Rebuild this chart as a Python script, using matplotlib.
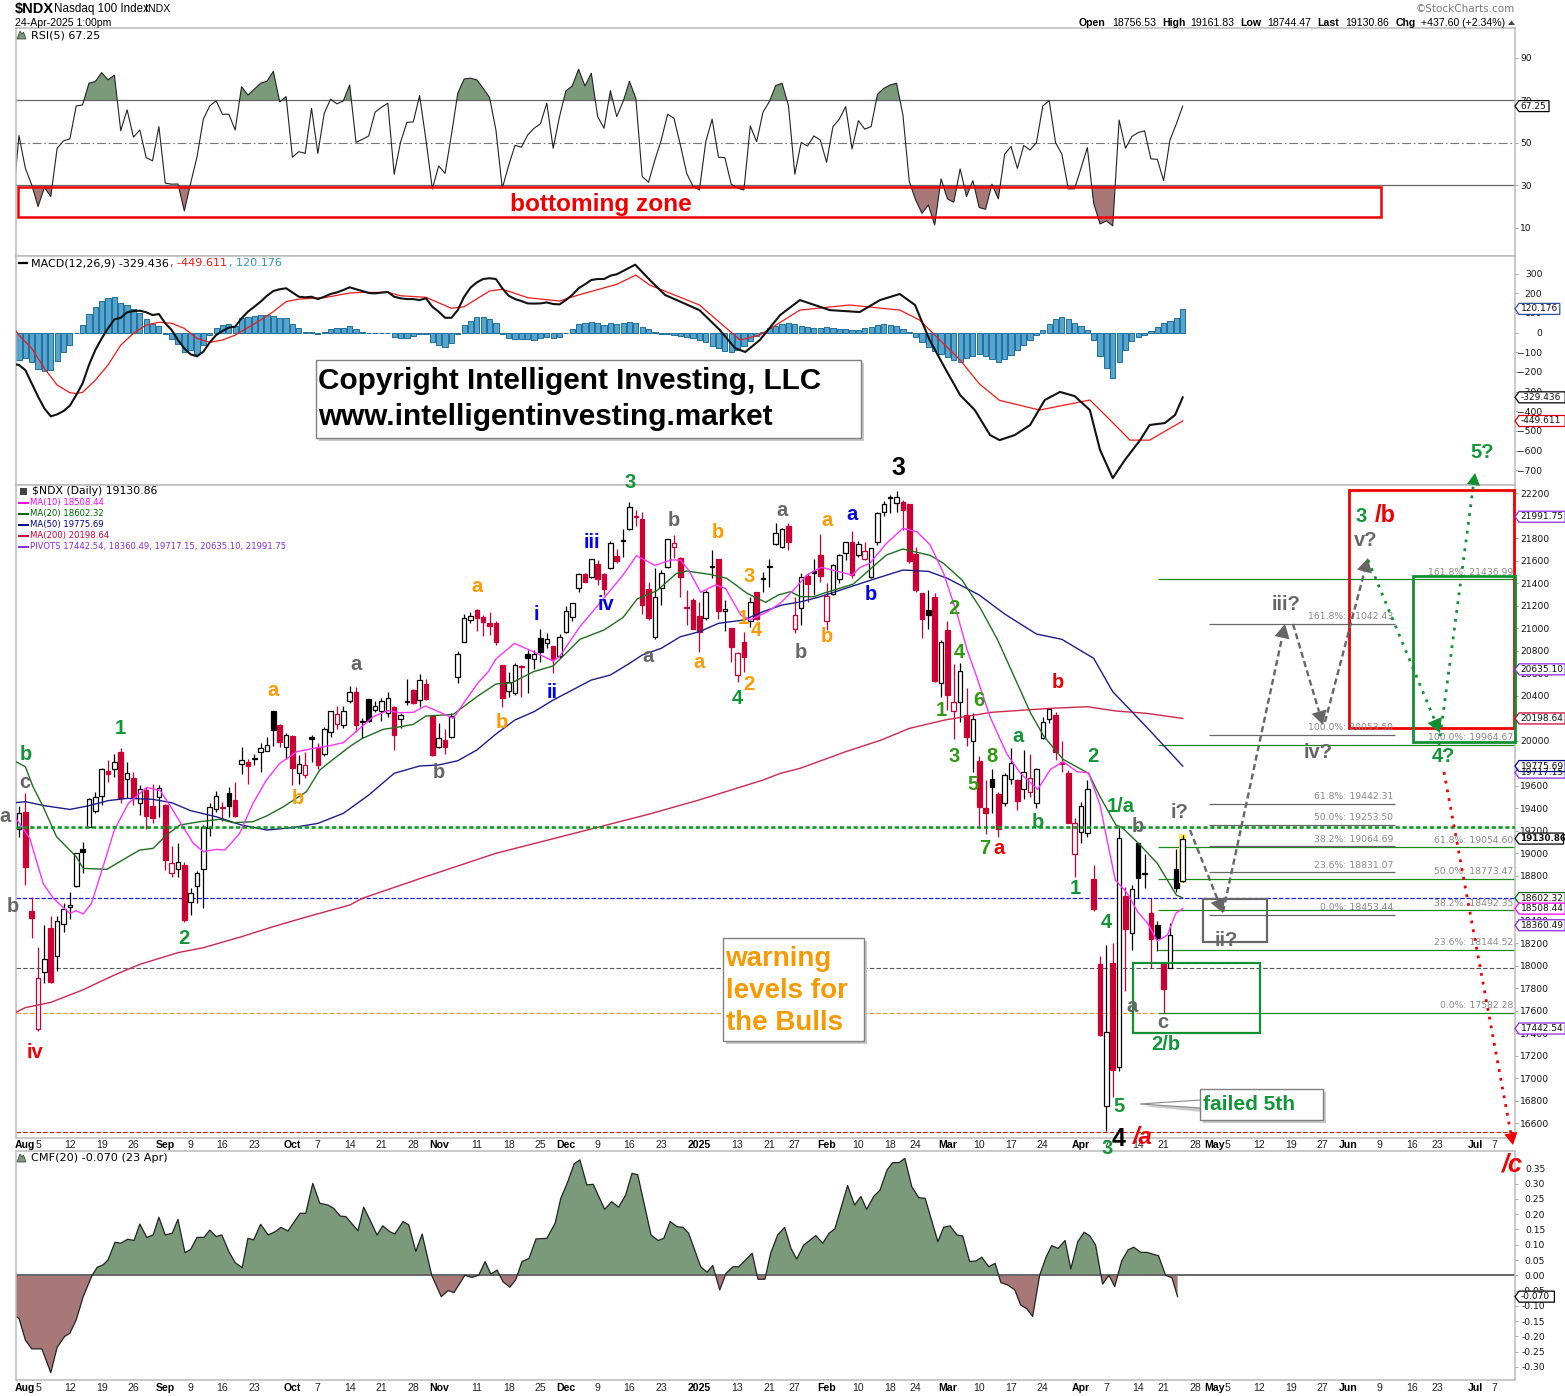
import numpy as np
import matplotlib
matplotlib.use("Agg")
import matplotlib.pyplot as plt
from matplotlib.patches import Rectangle, Polygon

W, H = 1565, 1396
plt.rcParams['font.family'] = ['DejaVu Sans']
ARIAL = 'Liberation Sans'

# ---------- price data (one row per session, 31-Jul-2024 .. 24-Apr-2025) ----------
opens = [19213,19364,18484,17435,17948,18333,18090,18368,18525,18712,19035,19236,19379,19512,19731,19746,19900,19657,19666,19444,19562,19420,19497,19429,18822,18857,18893,18570,18712,18857,19222,19391,19399,19533,19474,19790,19808,19835,19903,19912,20265,20140,19948,20042,19716,19699,20034,19942,19882,20081,20149,20140,20356,20430,20175,20368,20274,20268,20244,20303,20190,20350,20451,20362,20502,20220,19948,20007,20031,20564,20881,21071,21162,21100,21044,21044,20674,20439,20422,20665,20768,20724,20911,20866,20842,20756,20964,21097,21355,21482,21453,21568,21479,21533,21642,21783,21879,22001,21968,21349,20925,21355,21548,21725,21622,21190,21251,21109,21088,21552,21613,21151,21002,20582,20881,21062,21320,21447,21556,21746,21725,21909,20991,21177,21465,21505,21651,21068,21305,21441,21666,21767,21654,21619,21459,21770,22031,22167,22111,22122,22105,21660,21311,21162,21275,20511,20985,20268,20348,20226,20001,19820,19400,19660,19527,19450,19657,19651,19568,19548,19450,20028,20191,20229,19814,19716,18991,19186,19177,18771,18016,16757,18025,17103,18620,18294,19088,18825,18466,18360,18016,17977,18857,18756.53]
highs = [19420,19533,18614,18164,18363,18443,18443,18555,18653,19000,19100,19495,19548,19760,19829,19880,19933,19808,19720,19607,19592,19616,19607,19435,19065,19088,18926,18688,18843,19252,19444,19554,19459,19592,19631,19948,19835,19882,19977,20031,20265,20146,20066,20051,19873,19903,20051,19977,20119,20268,20309,20309,20487,20475,20200,20368,20354,20377,20430,20309,20244,20549,20460,20593,20549,20220,20155,20105,20244,20798,21124,21148,21168,21118,21148,21065,20674,20614,20688,20674,20807,20807,20994,20955,20845,20949,21198,21222,21494,21488,21613,21607,21488,21773,21702,21879,22120,22051,22031,21408,21533,21520,21791,21829,21631,21340,21266,21236,21340,21696,21613,21251,21002,20792,20964,21275,21320,21503,21613,21933,21890,21933,21281,21488,21488,21616,21838,21399,21571,21660,21764,21865,21779,21764,21710,22031,22131,22185,22223,22140,22105,21725,21316,21340,21311,20896,21065,20682,20688,20466,20244,19865,19651,19746,19548,19716,19933,19660,19918,19882,19755,20208,20294,20259,20000,19740,19311,19459,19651,18893,18090,18185,18200,19231,18697,18718,19090,18994,18600,18398,18016,18383,19038,19161.83]
lows = [19148,18718,18250,17423,17850,17844,17957,18303,18416,18700,18828,19230,19355,19429,19637,19681,19450,19488,19429,19340,19213,19272,19320,18851,18792,18792,18386,18452,18561,18517,19154,19370,19290,19325,19320,19705,19616,19785,19725,19905,19953,19948,19835,19607,19616,19666,19814,19749,19865,20036,20105,20111,20339,20081,20022,20170,20259,20179,20208,19918,20111,20318,20330,20303,20362,19865,19939,19882,20022,20516,20881,21044,20976,20931,20937,20851,20303,20392,20407,20392,20428,20638,20703,20822,20605,20733,20961,21068,21325,21408,21444,21385,21296,21524,21577,21631,21873,21909,21127,21074,20902,21207,21540,21622,21281,21029,20990,20792,21074,21444,21082,20979,20703,20525,20614,21014,21074,21325,21370,21740,21710,21696,20961,21029,21236,21296,21414,20985,21296,21399,21607,21444,21636,21607,21444,21740,22001,22022,22037,21874,21577,21325,20916,20994,20525,20392,20273,20016,20170,19956,19725,19227,19168,19361,19142,19420,19616,19385,19480,19500,19400,20013,20155,19829,19725,19272,18786,19089,19148,18490,17376,16535,16837,17068,17779,18140,18600,18688,17977,18134,17577,17977,18659,18744.47]
closes = [19355,18881,18428,17888,18063,17859,18401,18502,18537,19000,19015,19479,19497,19752,19708,19814,19488,19710,19503,19568,19331,19316,19577,18940,18911,18920,18407,18650,18822,19231,19414,19509,19414,19423,19334,19826,19779,19845,19933,19960,20096,19992,20051,19761,19791,19782,20016,19785,20102,20262,20235,20262,20430,20140,20165,20179,20312,20350,20377,20051,20226,20345,20339,20537,20371,19874,20022,19948,20220,20768,21088,21106,21094,21056,21023,20878,20383,20525,20670,20655,20733,20768,20792,20908,20727,20920,21151,21222,21479,21414,21613,21435,21352,21755,21598,21773,22081,21992,21207,21094,21275,21494,21791,21755,21459,21180,20993,20970,21320,21544,21157,21168,20836,20777,20748,21231,21079,21436,21548,21844,21885,21764,21115,21453,21396,21495,21465,21287,21559,21648,21764,21473,21746,21684,21710,22022,22102,22160,22164,22051,21598,21340,21079,21121,20531,20875,20407,20342,20617,20036,20191,19414,19361,19586,19216,19693,19799,19468,19725,19666,19746,20170,20280,19903,19791,19272,19266,19423,19569,18505,17385,17414,17074,19133,18327,18680,18783,18815,18241,18250,17794,18271,18693,19130.86]

# ---------- moving averages, read at the vertices of each line ----------
ma10_bars = [-0.5,1.7,3.8,5.4,8,9,10.1,11.4,13.3,15,17.2,20.1,22.2,23.7,25.3,27.4,29,31,32.4,34.7,36.8,38.9,41,43.7,46.3,48.1,51,53.6,55.7,58,59.9,62,63.9,66,68.3,69.9,72.2,73.8,75,77.9,80.9,84,85,88.2,91.3,95,97.1,100,102.5,104,105.3,107.2,109.5,111.1,113.5,115,117.7,119.7,121.8,123.9,126.2,131,132.3,133.8,136.4,139,141.2,143.3,145.4,147.5,149.1,150.6,152.7,155.3,157.5,160.2,162.2,164.2,166.4,168.2,170,171,172.4,174.3,175.9,177.5,179,180.6,181.9,183]
ma10_vals = [19311,19133,18733,18600,18466,18490,18460,18555,18896,19207,19444,19586,19557,19429,19281,19089,19014,19035,19029,19177,19444,19651,19799,19903,19933,19948,19983,20111,20214,20268,20250,20253,20309,20259,20199,20333,20516,20614,20727,20866,20792,20709,20748,21014,21222,21474,21645,21559,21607,21607,21518,21320,21385,21355,21118,21074,21148,21222,21340,21474,21542,21474,21542,21577,21755,21888,21859,21740,21488,21133,20807,20570,20214,19888,19710,19568,19746,19814,19725,19716,19429,19148,18763,18644,18481,18377,18220,18274,18466,18508.44]
ma20_bars = [-0.5,1,2.2,3.8,5.9,9,10.1,13.8,17,19,21.1,23.2,25.3,28.4,31.6,33.7,36.8,38.9,41.6,45.2,47.3,49.4,52,54,57.3,60,62,64,68.3,72,75,77.5,80.9,84,88.2,92,95,97.2,100.3,103.4,105,108.7,111.3,114.5,117.4,119.4,121.3,122.9,125,126.5,131.2,134.3,136.4,139,143.3,145.4,148.3,151.2,153.9,156.5,159.1,161.2,164.2,168.2,170,172.5,173.5,176.3,179,182,183]
ma20_vals = [19814,19770,19592,19414,19148,18970,18866,18857,18964,19029,19044,19163,19251,19281,19302,19272,19281,19331,19414,19548,19740,19835,19948,20022,20102,20125,20146,20220,20235,20392,20505,20516,20614,20665,20902,20985,21097,21260,21334,21488,21509,21479,21444,21311,21231,21296,21325,21281,21281,21311,21393,21548,21651,21705,21648,21577,21429,21177,20896,20570,20244,20037,19835,19710,19503,19251,19228,19074,18911,18629,18602.32]
ma50_bars = [-0.5,1,4,8,11,14,17,21,24,27,31,35,39,43,47,51,55,59,63,66,69,72,75,78,81,84,87,90,93,96,98,101,104,107,110,114,117,120,123,126,130,134,139,143,146,148,151,155,160,164,169,172,175,178,183]
ma50_vals = [19450,19459,19423,19390,19423,19468,19488,19480,19450,19379,19325,19251,19207,19228,19266,19355,19518,19711,19776,19785,19823,19918,20060,20185,20259,20362,20451,20540,20585,20688,20762,20822,20925,20970,21044,21074,21148,21207,21236,21281,21355,21429,21518,21506,21444,21385,21296,21127,20949,20902,20733,20436,20259,20081,19775.69]
ma200_bars = [-0.5,1,5,10,15,19,25,29,35,40,45,52,54,63,75,90.6,99.2,107,117,119.7,122.8,125,130,135.6,140,145.6,152.9,162,168,172.5,177.3,183]
ma200_vals = [17586,17628,17675,17785,17918,18013,18117,18161,18259,18348,18431,18540,18600,18774,19000,19225,19350,19475,19651,19710,19755,19800,19903,20007,20110,20185,20253,20288,20303,20265,20244,20198.64]

# ---------- RSI(5), first value belongs to the session before the chart's first ----------
rsi = [21,53.4,38,30.2,20,28.9,24.7,47.4,50.9,51.8,67.3,67.8,78,78.8,83,79.6,81.8,55.7,65.5,52.6,56,43,41.5,57.6,31,30.5,30.6,17.9,31,43.5,61.2,67.3,69.8,63.4,63.4,56,76.4,72.4,75.2,78,79,83.6,69.2,71.7,43.2,45.8,45,66.2,45,63.9,70.5,68.3,69.7,77.2,50.2,51.6,53.2,64.4,66.7,68.6,35.2,50.2,59.6,59.8,72.2,51.3,28.3,39.1,35.6,53.7,73.3,80,80.4,79.6,75.6,71.3,56,28.6,39.3,48.8,47.9,53.7,56.8,58.9,68.6,47.4,62.3,74.4,76.7,84.6,76.7,82.7,62.3,56.8,74.5,62.3,69.4,78.9,70.9,34.1,31.4,41.9,51.3,63.4,61.5,49,35.6,29.4,27.8,50.5,61.1,43.2,43,30.5,28.6,27.8,57.9,50.5,64.4,69.4,76.9,78,67.5,35.2,50.1,48.5,53.2,51.3,40.8,57.6,61.1,67,47.1,60.4,56.4,57.6,72.8,75.6,77.2,78,63.1,31.7,23.1,16.8,20.7,11.3,33,23.6,22,37.7,24.7,32.2,19.5,18.7,30.5,23.6,44.6,48.2,38,48.7,46.6,50.1,67.3,69.8,50.1,44.6,28.3,28.3,38,47.7,21.5,11.8,13.2,10.9,60.7,47.4,52.9,54.8,55.6,42.4,42.2,32.2,51.3,58.9,67.25]

# ---------- MACD(12,26,9) ----------
macd_hist = [-139,-131,-152,-187,-194,-191,-145,-101,-64,-3,38,92,131,160,174,180,148,140,120,97,69,42,35,-6,-35,-58,-97,-89,-109,-64,-13,21,38,42,35,72,81,86,89,89,86,75,72,42,21,4,4,-9,1,18,21,21,31,16,3,-1,-4,-4,-4,-25,-30,-26,-20,-9,-9,-47,-64,-72,-55,-6,38,59,77,77,69,47,-6,-26,-33,-35,-35,-36,-30,-21,-26,-21,-1,16,42,47,55,47,38,47,43,50,55,50,30,20,5,-5,-10,-15,-20,-25,-30,-40,-50,-70,-80,-95,-100,-90,-70,-45,-20,5,25,35,45,50,45,35,30,25,25,30,25,20,20,15,15,25,30,40,45,40,35,20,5,-25,-50,-75,-95,-110,-125,-140,-150,-130,-120,-110,-120,-135,-150,-135,-115,-90,-65,-40,-15,15,45,70,80,70,50,35,15,-40,-120,-180,-230,-150,-90,-45,-25,-15,10,30,50,60,75,120.176]
macd_bars = [-0.5] + list(range(95)) + [96.9,99.2,101.6,107,110.2,112.6,114.2,116.5,119.7,122.8,127.5,132.2,135.4,138.5,140.9,143.2,145.6,148,150.3,152.7,154.2,156.6,159,161.3,163.7,166,168.4,170,172,173.9,176.3,177.8,180.2,181.8,183]
macd_vals = [-162,-165,-191,-259,-326,-386,-426,-416,-399,-372,-318,-259,-165,-89,-30,21,67,75,103,109,111,103,89,94,47,13,-38,-81,-111,-121,-97,-50,-13,8,25,30,72,106,131,157,187,211,220,225,204,182,179,182,170,182,196,204,216,230,220,211,201,199,203,206,182,174,170,170,165,174,131,106,75,75,114,182,228,255,272,276,272,225,187,170,160,148,147,148,153,145,143,165,191,225,245,267,272,272,289,296,345,267,191,114,13,-79,-99,-38,89,165,114,104,165,196,140,-38,-180,-318,-394,-521,-547,-521,-470,-343,-302,-323,-394,-597,-740,-648,-547,-470,-460,-419,-329.436]
signal_bars = [-0.5,0,2,4,6,8,9,10,12,14,16,18,20,22,24,26,28,30,32,34,36,38,40,42,44,48,52,54,58,60,64,68,70,74,76,78,80,85,88,94,97,99.2,107,113.4,116.5,122.8,130.6,138.5,141.6,148,151,154.2,160.5,168.4,171.6,174.7,177.8,183]
signal_vals = [8,-13,-81,-182,-267,-306,-310,-304,-242,-165,-64,-4,38,52,47,21,-30,-50,-38,-13,25,64,106,157,170,177,201,204,204,187,179,123,131,211,220,199,177,160,191,245,292,241,140,-38,-13,114,140,114,64,-140,-260,-345,-394,-343,-445,-547,-547,-449.611]

# ---------- CMF(20) ----------
cmf_bars = [-0.5,0,1,2,3.6,5,6,7.2,8,9,10.1,11.5,12.3,13.2,14,15.1,16,17.1,18.1,19,20.1,21.1,22,23,24.1,25,26.1,27,28,29.1,30,31,31.9,33,34,35.1,36,36.9,38,39.2,40.3,41.2,42.3,44.2,45.1,46.2,47.3,48.6,49.5,50.5,51.4,53.3,54.2,55.2,56.3,57.2,58.3,59.1,60.4,61.3,62.4,63.4,64.9,66.4,67.5,68.4,70.1,71.2,72.3,73.3,74.2,75.2,76.1,77.2,78.1,79.1,80.2,81.3,83,84.3,85.2,86.2,87.3,88.2,89.3,90.3,92.1,93.2,94.3,95.4,96.4,97.3,99.4,100.5,101.4,102.4,103.5,104.4,105.3,107.2,108.2,109.1,110.2,111.2,112.3,113.2,115.3,116.2,117.3,118.2,119.3,120.4,121.4,122.3,123.4,125.3,126.4,127.4,128.3,130.3,131.4,132.4,133.3,134.4,135.4,136.5,137.4,138.4,139.3,140.4,141.5,142.5,144.5,145.4,146.4,147.5,148.4,149.5,150.5,151.4,152.5,153.5,154.4,155.5,156.6,157.5,158.5,159.4,160.5,161.5,162.4,163.4,164.5,165.4,166.5,167.5,168.4,169.3,170.4,171.4,172.3,173.4,174.4,175.3,176.4,177.4,178.3,179.2,180.3,181.3,182.2]
cmf_vals = [-.135,-.141,-.212,-.241,-.241,-.319,-.236,-.2,-.19,-.146,-.07,0,.026,.034,.05,.108,.105,.118,.114,.168,.124,.132,.19,.132,.138,.183,.074,.085,.124,.124,.148,.127,.132,.078,.041,.025,.121,.116,.167,.132,.143,.157,.145,.203,.203,.301,.236,.23,.219,.194,.192,.146,.223,.181,.132,.162,.143,.135,.176,.165,.078,.135,0,-.07,-.05,-.057,0,-.007,0,.045,.004,.017,-.021,-.039,-.015,.045,.055,.119,.121,.17,.252,.301,.365,.378,.296,.298,.216,.241,.223,.263,.334,.329,.132,.114,.121,.176,.159,.157,.138,.028,.01,.032,-.048,.007,.028,.028,.072,-.013,-.013,.072,.132,.157,.088,.053,.099,.13,.105,.138,.152,.294,.23,.258,.216,.258,.279,.345,.369,.369,.383,.29,.254,.252,.11,.157,.162,.132,.129,.045,.047,.059,.028,.039,-.024,-.032,-.048,-.097,-.11,-.135,0,.059,.097,.088,.114,.021,.11,.141,.129,.099,-.029,0,-.037,.047,.083,.092,.075,.075,.069,.064,0,-.008,-.07]

# ---------- levels ----------
support_level, blue_level, gray_level, orange_level, red_level = 19230, 18602.32, 17977, 17577, 16525
fib_a_vals = [21436.99,19964.67,19054.60,18773.47,18492.35,18144.52,17582.28]
fib_a_text = ['161.8%: 21436.99','100.0%: 19964.67','61.8%: 19054.60','50.0%: 18773.47','38.2%: 18492.35','23.6%: 18144.52','0.0%: 17582.28']
fib_b_vals = [21042.43,20053.50,19442.31,19253.50,19064.69,18831.07,18453.44]
fib_b_text = ['161.8%: 21042.43','100.0%: 20053.50','61.8%: 19442.31','50.0%: 19253.50','38.2%: 19064.69','23.6%: 18831.07','0.0%: 18453.44']

# ---------- date axis ----------
tick_bars = [1,3,8,13,18,23,27,32,37,43,47,52,57,62,66,72,77,82,86,91,96,101,107,113,118,122,127,132,137,141,146,151,156,161,167,171,176,180,185,188,190,195,200,205,209,214,219,223,229,232]
tick_text = ['Aug','5','12','19','26','Sep','9','16','23','Oct','7','14','21','28','Nov','11','18','25','Dec','9','16','23','2025','13','21','27','Feb','10','18','24','Mar','10','17','24','Apr','7','14','21','28','May','5','12','19','27','Jun','9','16','23','Jul','7']
bold_ticks = {'Aug','Sep','Oct','Nov','Dec','2025','Feb','Mar','Apr','May','Jun','Jul'}

RED, GREEN_MA, NAVY, CRIM, MAG, PURP = '#CC0033', '#1E6F1E', '#1C1C8C', '#D0264C', '#FF33FF', '#8A2BE2'
FRAME = '#BBBBBB'

fig = plt.figure(figsize=(W/100, H/100), dpi=100, facecolor='white')

def panel(top, bottom):
    ax = fig.add_axes([16/W, 1-bottom/H, (1515.3-16)/W, (bottom-top)/H])
    ax.set_xlim(-0.47, 235.3)
    for s in ax.spines.values():
        s.set_color(FRAME); s.set_linewidth(1.1)
    ax.yaxis.tick_right()
    ax.tick_params(axis='y', length=2, width=0.6, color='#999999', labelsize=6.6, pad=1.5, labelcolor='#111111')
    ax.tick_params(axis='x', length=0, labelbottom=False)
    return ax

# ---- RSI
ax_r = panel(28, 256)
ax_r.set_ylim(-3.3, 104)
rx = np.arange(len(rsi)) - 1
ax_r.fill_between(rx, rsi, 70, where=np.array(rsi) >= 70, interpolate=True, color='#7A9A7A', lw=0)
ax_r.fill_between(rx, rsi, 30, where=np.array(rsi) <= 30, interpolate=True, color='#A87878', lw=0)
ax_r.axhline(70, color='#666666', lw=0.9)
ax_r.axhline(30, color='#666666', lw=0.9)
ax_r.axhline(50, color='#777777', lw=0.8, ls=(0, (8, 2.5, 1.5, 2.5)))
ax_r.plot(rx, rsi, color='#222222', lw=0.8)
ax_r.set_yticks([90, 70, 50, 30, 10])

# ---- MACD
ax_m = panel(256, 485)
ax_m.set_ylim(-775, 389)
ax_m.bar(np.arange(len(macd_hist)), macd_hist, width=0.82, facecolor='#55A5CE', edgecolor='#1F6E9A', linewidth=0.7, zorder=2)
ax_m.plot(signal_bars, signal_vals, color='#F01818', lw=0.9, zorder=3)
ax_m.plot(macd_bars, macd_vals, color='#111111', lw=1.5, zorder=4)
ax_m.set_yticks(np.arange(-700, 301, 100))
ax_m.tick_params(axis='y', pad=17.5)
for tl in ax_m.get_yticklabels():
    tl.set_ha('right')

# ---- Price
ax_p = panel(485, 1137.6)
ax_p.set_ylim(22200-(1137.6-493.3)/0.1125, 22200+8.3/0.1125)
ax_p.set_yticks(np.arange(16600, 22201, 200))
ax_p.add_patch(Rectangle((182.42, 18735), 1.16, 440, fc='#FFF04A', ec='none', zorder=3.6))
prev = None
for i, (o, h, l, c) in enumerate(zip(opens, highs, lows, closes)):
    col = RED if (prev is not None and c < prev) else 'black'
    z = 3.7 if i == len(opens)-1 else 3
    ax_p.vlines(i, l, h, color=col, lw=0.9, zorder=z)
    lo, hi = min(o, c), max(o, c)
    ax_p.bar(i, max(hi-lo, 8), bottom=lo, width=0.72,
             facecolor='white' if c >= o else col, edgecolor=col, linewidth=0.9, zorder=z+0.1)
    prev = c
ax_p.plot(ma200_bars, ma200_vals, color=CRIM, lw=1.0, zorder=4)
ax_p.plot(ma50_bars, ma50_vals, color=NAVY, lw=1.0, zorder=4)
ax_p.plot(ma20_bars, ma20_vals, color=GREEN_MA, lw=1.0, zorder=4)
ax_p.plot(ma10_bars, ma10_vals, color=MAG, lw=1.0, zorder=4)
xe = 235.3
ax_p.hlines(blue_level, -0.47, xe, color='#1A1AF0', lw=0.9, ls=(0, (3.5, 1.5)), zorder=2)
ax_p.hlines(gray_level, -0.47, xe, color='#555555', lw=0.8, ls=(0, (4, 2)), zorder=2)
ax_p.hlines(orange_level, -0.47, 179, color='#F09020', lw=0.8, ls=(0, (4, 2)), zorder=2)
ax_p.hlines(red_level, -0.47, xe, color='#D01010', lw=0.8, ls=(0, (4, 2)), zorder=2)
ax_p.hlines(fib_a_vals, 179.1, xe, color='#1B8A1B', lw=0.9, zorder=2)
ax_p.hlines(fib_b_vals, 187.1, 216.4, color='#666666', lw=0.9, zorder=2)
ax_p.hlines(support_level, -0.47, xe, color='#0E9A22', lw=1.9, ls=(0, (1.6, 1.0)), zorder=5)
ax_p.set_xticks(tick_bars)
ax_p.set_xticklabels(tick_text)
ax_p.tick_params(axis='x', length=0, labelbottom=True, labelsize=7, pad=2)

# ---- CMF
ax_c = panel(1151, 1380)
ax_c.set_ylim(-0.343, 0.407)
cx, cv = np.array(cmf_bars), np.array(cmf_vals)
ax_c.fill_between(cx, cv, 0, where=cv >= 0, interpolate=True, color='#7A9A7A', lw=0)
ax_c.fill_between(cx, cv, 0, where=cv <= 0, interpolate=True, color='#A87878', lw=0)
ax_c.axhline(0, color='#666666', lw=1.4)
ax_c.plot(cx, cv, color='#222222', lw=0.9)
cmf_ticks = np.round(np.arange(-0.30, 0.351, 0.05), 2) + 0.0
ax_c.set_yticks(cmf_ticks)
ax_c.set_yticklabels([f'{abs(v):.2f}' if abs(v) < 1e-9 else f'{v:.2f}' for v in cmf_ticks])
ax_c.tick_params(axis='y', pad=19.5)
for tl in ax_c.get_yticklabels():
    tl.set_ha('right')
ax_c.set_xticks(tick_bars)
ax_c.set_xticklabels(tick_text)
ax_c.tick_params(axis='x', length=0, labelbottom=True, labelsize=7, pad=2)

for a in (ax_p, ax_c):
    for tl, s in zip(a.get_xticklabels(), tick_text):
        tl.set_family(ARIAL)
        tl.set_fontsize(7.6)
        if s in bold_ticks:
            tl.set_fontweight('bold')
            tl.set_color('black')
        else:
            tl.set_color('#222222')

# ---------- overlay in picture pixels for annotation ----------
ov = fig.add_axes([0, 0, 1, 1], facecolor='none')
ov.set_xlim(0, W); ov.set_ylim(H, 0); ov.axis('off')

def T(x, y, s, color='black', size=14.5, weight='bold', ha='center', va='center', style='normal', family=ARIAL, z=20):
    return ov.text(x, y, s, color=color, fontsize=size, fontweight=weight, ha=ha, va=va, style=style, family=family, zorder=z)

def box(x0, y0, x1, y1, ec, lw=1.0, fc='none', z=10):
    ov.add_patch(Rectangle((x0, y0), x1-x0, y1-y0, fc=fc, ec=ec, lw=lw, zorder=z))

def shadow_box(x0, y0, x1, y1):
    ov.add_patch(Rectangle((x0+3, y0+3), x1-x0, y1-y0, fc='#C8C8C8', ec='none', zorder=14))
    ov.add_patch(Rectangle((x0, y0), x1-x0, y1-y0, fc='white', ec='#808080', lw=1.0, zorder=15))

def arrow(x0, y0, x1, y1, color, lw, ls, hs=13):
    d = np.array([x1-x0, y1-y0], float); L = np.hypot(*d); u = d/L; n = np.array([-u[1], u[0]])
    tip = np.array([x1, y1]); base = tip - u*hs
    ov.plot([x0, base[0]], [y0, base[1]], color=color, lw=lw, ls=ls, zorder=12, solid_capstyle='butt')
    ov.add_patch(Polygon([tip, base+n*hs*0.55, base-n*hs*0.55], closed=True, fc=color, ec='none', zorder=12))

def tag(ax, val, s, color, bold=False, w=None):
    y = H - ax.transData.transform((0, val))[1]
    w = w if w else len(s)*5.4 + 3
    ov.add_patch(Polygon([(1515, y), (1519, y-5.5), (1519+w, y-5.5), (1519+w, y+5.5), (1519, y+5.5)],
                         closed=True, fc='white', ec=color, lw=0.9, zorder=30))
    ov.text(1520.5, y, s, fontsize=6.3 if bold else 6.5, fontweight='bold' if bold else 'normal', color='#111111',
            ha='left', va='center', zorder=31, family='DejaVu Sans')

# header
T(15, 9, '$NDX', size=10.5, ha='left')
T(53.5, 9, 'Nasdaq 100 Index', size=8.4, weight='normal', ha='left')
T(145, 9, 'INDX', size=7.6, weight='normal', ha='left')
T(15, 22.5, '24-Apr-2025 1:00pm', size=7.6, weight='normal', ha='left')
for x, s, b in [(1079, 'Open', 1), (1112, '18756.53', 0), (1162, 'High', 1), (1190, '19161.83', 0), (1240, 'Low', 1),
                (1267, '18744.47', 0), (1317, 'Last', 1), (1345, '19130.86', 0), (1396, 'Chg', 1), (1421, '+437.60 (+2.34%)', 0)]:
    T(x, 22.5, s, size=7.6, weight='bold' if b else 'normal', ha='left')
ov.add_patch(Polygon([(1508, 25), (1515, 25), (1511.5, 20.5)], closed=True, fc='#444444', ec='none', zorder=20))
T(1515, 9.5, '\u00a9StockCharts.com', color='#777777', size=7.5, weight='normal', ha='right', family='DejaVu Sans')

# panel legends
for y, tx in [(35, 'RSI(5) 67.25'), (1158, 'CMF(20) -0.070 (23 Apr)')]:
    ov.add_patch(Polygon([(17, y+4), (20, y-4), (22, y-1), (23.5, y-3), (26, y+4)], closed=True, fc='#7A9A7A', ec='#333333', lw=0.5, zorder=20))
    T(31, y, tx, size=8.0 if y == 35 else 8.1, weight='normal', ha='left', family='DejaVu Sans')
ov.plot([19, 27], [263, 263], color='black', lw=1.6, zorder=20)
T(31, 263, 'MACD(12,26,9) -329.436', size=8.0, weight='normal', ha='left', family='DejaVu Sans')
T(170, 263, ', -449.611', color='#F01818', size=8.0, weight='normal', ha='left', family='DejaVu Sans')
T(229, 263, ', 120.176', color='#3090C0', size=8.0, weight='normal', ha='left', family='DejaVu Sans')
ov.add_patch(Rectangle((19.5, 488), 7, 7, fc='#444444', ec='none', zorder=20))
T(31.5, 491.5, '$NDX (Daily) 19130.86', size=7.8, weight='normal', ha='left', family='DejaVu Sans')
for y, s, c in [(502.5, 'MA(10) 18508.44', '#FF00FF'), (513.5, 'MA(20) 18602.32', '#006400'), (524.5, 'MA(50) 19775.69', '#00008B'),
                (535.5, 'MA(200) 20198.64', '#CC0033'),
                (546.5, 'PIVOTS 17442.54, 18360.49, 19717.15, 20635.10, 21991.75', PURP)]:
    ov.plot([19, 27.5], [y, y], color=c, lw=1.4, zorder=20)
    T(29.5, y, s, color=c, size=6.1, weight='normal', ha='left', family='DejaVu Sans')

# annotation boxes
box(18, 186.7, 1381, 217, '#F00000', lw=1.8)
T(601, 204, 'bottoming zone', color='#F00000', size=17.6)
shadow_box(316, 360, 861, 438)
T(318, 381, 'Copyright Intelligent Investing, LLC', size=21.4, ha='left')
T(318, 417, 'www.intelligentinvesting.market', size=21.4, ha='left')
shadow_box(723, 938, 864, 1041)
for y, s in [(959, 'warning'), (991, 'levels for'), (1023, 'the Bulls')]:
    T(725.5, y, s, color='#F59A00', size=20, ha='left')
box(1349, 490, 1514, 727.7, '#F00000', lw=2.0)
box(1413.3, 576, 1515, 741.7, '#109033', lw=2.0)
box(1202.7, 898.7, 1267.3, 942.3, '#666666', lw=1.6)
box(1133, 962.7, 1260, 1032.7, '#109033', lw=1.6)

# callout
ov.add_patch(Polygon([(1142, 1106), (1202, 1104), (1202, 1112)], closed=True, fc='#C8C8C8', ec='none', zorder=14))
ov.add_patch(Polygon([(1140, 1104), (1201, 1100), (1201, 1108)], closed=True, fc='white', ec='#888888', lw=0.8, zorder=15))
shadow_box(1200, 1089, 1323, 1120)
T(1203, 1104, 'failed 5th', color='#109637', size=15, ha='left')

# forecast arrows
GR = '#666666'; DG = '#109033'
dash = (0, (2.6, 1.5)); dot = (0, (1, 2.2))
arrow(1190, 830, 1223, 913, GR, 1.7, dash, 14)
arrow(1223, 912, 1285, 624, GR, 1.7, dash, 14)
arrow(1293, 624, 1323, 725, GR, 1.7, dash, 14)
arrow(1325, 722, 1368, 558, GR, 1.7, dash, 14)
arrow(1368, 560, 1440, 733, DG, 2.0, dot, 14)
arrow(1439, 745, 1475, 473, DG, 2.0, dot, 12)
arrow(1444, 772, 1513, 1145, '#F00000', 2.0, dot, 12)

# fibonacci text
for v, s in zip(fib_a_vals, fib_a_text):
    y = H - ax_p.transData.transform((0, v))[1]
    T(1513, y-7, s, color='#888888', size=6.7, weight='normal', ha='right', family='DejaVu Sans', z=11)
for v, s in zip(fib_b_vals, fib_b_text):
    y = H - ax_p.transData.transform((0, v))[1]
    T(1393, y-7, s, color='#888888', size=6.7, weight='normal', ha='right', family='DejaVu Sans', z=11)

# wave labels
GN = '#109637'; LG = '#2E9A10'; GY = '#666666'; OR = '#FF9A00'; BL = '#0000EE'; RD = '#F00000'
labels = [
 (26,754,'b',GN),(25,783,'c',GY),(5.5,816,'a',GY),(13,906,'b',GY),(35,1053,'iv',RD),(120,729,'1',GN),(184,939,'2',GN),
 (356,664,'a',GY),(273,691,'a',OR),(298,799,'b',OR),(438.7,772,'b',GY),(477,587,'a',OR),(502,722,'b',OR),(648,657,'a',GY),
 (536,615,'i',BL),(552,693,'ii',BL),(592,542,'iii',BL),(606,604,'iv',BL),(630,482,'3',GN),(674,520,'b',GY),(718,532,'b',OR),
 (699,663,'a',OR),(749,576,'3',OR),(743,618,'1',OR),(756,631,'4',OR),(737,698,'4',GN),(749,685,'2',OR),(782,510,'a',GY),
 (801,652,'b',GY),(827,521,'a',OR),(827,637,'b',OR),(852,515,'a',BL),(871,595,'b',BL),
 (954,608,'2',LG),(959,653,'4',LG),(979,700,'6',LG),(941,711,'1',LG),(954,757,'3',LG),(973,784,'5',LG),(992,756,'8',LG),
 (1018,737,'a',GN),(1058,683,'b',RD),(1038,823,'b',GN),(985,849,'7',LG),(999,849,'a',RD),(1093,757,'2',GN),(1121,807,'1/a',GN),
 (1138,826,'b',GY),(1179,812,'i?',GY),(1075,888,'1',GN),(1106,922,'4',GN),(1132,1006,'a',GY),(1163,1023,'c',GY),
 (1166,1045,'2/b',GN),(1119,1107,'5',GN),(1107,1149,'3',GN),(1226,940,'ii?',GY),(1286,604,'iii?',GY),(1318,753,'iv?',GY),
 (1366,540,'v?',GY),(1361,516,'3',GN),(1443,757,'4?',GN),(1482,453,'5?',GN)]
for x, y, s, c in labels:
    T(x, y, s, color=c, size=14.5, z=22)
T(898, 468, '3', size=18)
T(1119, 1139, '4', size=18, z=23)
T(1143, 1138, '/a', color=RD, size=17, style='italic', z=23)
T(1385, 516, '/b', color=RD, size=17, z=22)
T(1512, 1165, '/c', color=RD, size=18, style='italic', z=23)

# value tags
tag(ax_r, 67.25, '67.25', 'black')
tag(ax_m, 120.176, '120.176', '#3050A0')
tag(ax_m, -329.436, '-329.436', 'black')
tag(ax_m, -449.611, '-449.611', '#E00000')
for v, s, c in [(21991.75, '21991.75', PURP), (20635.10, '20635.10', PURP), (20198.64, '20198.64', RED),
                (19717.15, '19717.15', PURP), (19775.69, '19775.69', '#00008B'), (18602.32, '18602.32', '#006400'),
                (18508.44, '18508.44', '#FF00FF'), (18360.49, '18360.49', PURP), (17442.54, '17442.54', PURP)]:
    tag(ax_p, v, s, c)
tag(ax_p, 19130.86, '19130.86', 'black', bold=True, w=44.5)
tag(ax_c, -0.070, '-0.070', 'black')

fig.savefig('out.png', dpi=100, facecolor='white')
